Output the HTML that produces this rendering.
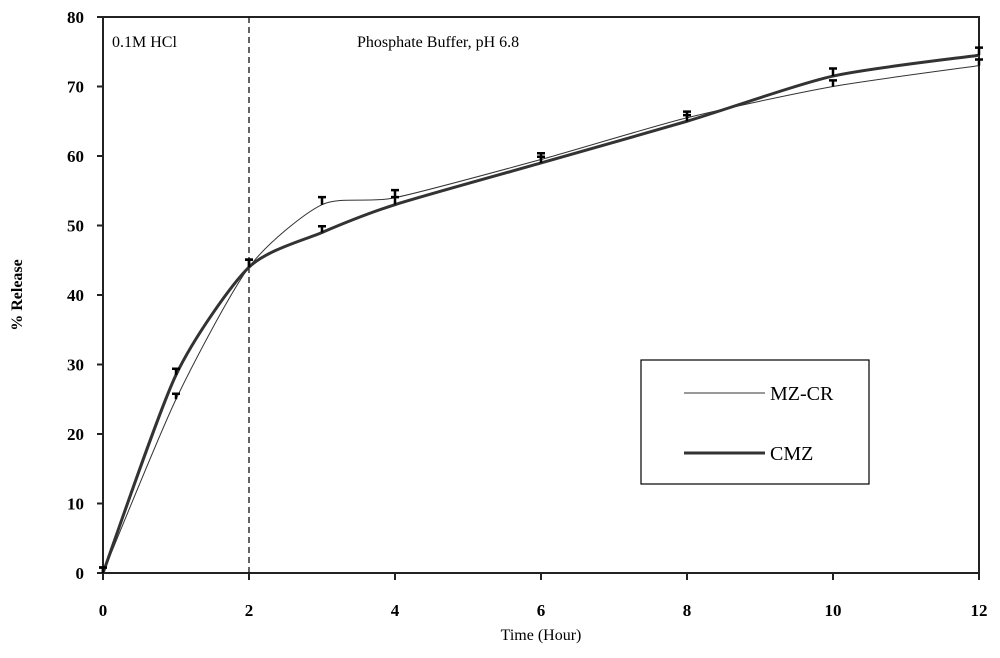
<!DOCTYPE html>
<html><head><meta charset="utf-8"><style>
body{margin:0;background:#fff}
svg{display:block;font-family:"Liberation Serif",serif}
</style></head><body>
<svg id="chart" width="1000" height="658" viewBox="0 0 1000 658">
<g id="axes"></g>
<g id="series"></g>
<text x="112" y="47" font-size="16">0.1M HCl</text>
<text x="357" y="47" font-size="16">Phosphate Buffer, pH  6.8</text>
<text x="541" y="640" font-size="16" text-anchor="middle">Time (Hour)</text>
<text transform="translate(22,295) rotate(-90)" font-size="16" font-weight="bold" text-anchor="middle">% Release</text>
<g>
<rect x="641" y="360" width="228" height="124" fill="#fff" stroke="#000" stroke-width="1.2"/>
<line x1="684" y1="393" x2="765" y2="393" stroke="#333" stroke-width="1"/>
<text x="770" y="400" font-size="20">MZ-CR</text>
<line x1="684" y1="453" x2="765" y2="453" stroke="#333" stroke-width="3"/>
<text x="770" y="460" font-size="20">CMZ</text>
</g>
</svg>
<script>
const times=[0,1,2,3,4,6,8,10,12];
const mzcr=[0,25,44,53,54,59.5,65.5,70,73];
const cmz=[0,28.5,44,49,53,59,65,71.5,74.5];
const mzcrErr=[0.5,0.5,0.8,0.8,0.8,0.6,0.6,0.6,0.6];
const cmzErr=[0.5,0.6,0.8,0.6,0.8,0.6,0.6,0.8,0.8];
const xTicks=[0,2,4,6,8,10,12];
const yTicks=[0,10,20,30,40,50,60,70,80];
const L=103,R=979,T=17,B=573;
const X=v=>L+(v/12)*(R-L);
const Y=v=>B-(v/80)*(B-T);
const NS='http://www.w3.org/2000/svg';
const ax=document.getElementById('axes'),se=document.getElementById('series');
function mk(tag,at,parent){const e=document.createElementNS(NS,tag);for(const k in at)e.setAttribute(k,at[k]);parent.appendChild(e);return e;}
let f=mk('rect',{x:L,y:T,width:R-L,height:B-T,fill:'none',stroke:'#222','stroke-width':2},ax);


yTicks.forEach(v=>{
 let l=mk('line',{x1:L-6,x2:L,y1:Y(v),y2:Y(v),stroke:'#222','stroke-width':2},ax);
 
 
 let t=mk('text',{x:84,y:Y(v)+6,'font-size':17,'font-weight':'bold','text-anchor':'end'},ax);t.textContent=v;
 
 
});
xTicks.forEach(v=>{
 let l=mk('line',{x1:X(v),x2:X(v),y1:B,y2:B+7,stroke:'#222','stroke-width':2},ax);
 
 
 let t=mk('text',{x:X(v),y:616,'font-size':17,'font-weight':'bold','text-anchor':'middle'},ax);t.textContent=v;
 
 
});
let d=mk('line',{x1:X(2),x2:X(2),y1:T,y2:B,stroke:'#111','stroke-width':1.3,'stroke-dasharray':'6,4'},ax);


function spline(xs,ys){
 const p=xs.map((x,i)=>[X(x),Y(ys[i])]);let s='M'+p[0][0]+','+p[0][1];
 for(let i=0;i<p.length-1;i++){
  const p0=p[Math.max(0,i-1)],p1=p[i],p2=p[i+1],p3=p[Math.min(p.length-1,i+2)];
  const k=0.12;
  s+=` C${p1[0]+(p2[0]-p0[0])*k},${p1[1]+(p2[1]-p0[1])*k} ${p2[0]-(p3[0]-p1[0])*k},${p2[1]-(p3[1]-p1[1])*k} ${p2[0]},${p2[1]}`;
 }return s;}
function draw(vals,errs,w,name){
 let p=mk('path',{d:spline(times,vals),fill:'none',stroke:'#333','stroke-width':w},se);
 
 
 times.forEach((t,i)=>{
  const x=X(t),y=Y(vals[i]),ye=Y(vals[i]+errs[i]);
  let e=mk('path',{d:`M${x},${y} V${ye-2} M${x-4},${ye-2} H${x+4}`,stroke:'#000','stroke-width':2.5,fill:'none'},se);
  
  
 });
}
draw(mzcr,mzcrErr,1,'mzcr');
draw(cmz,cmzErr,3,'cmz');
</script>
</body></html>
